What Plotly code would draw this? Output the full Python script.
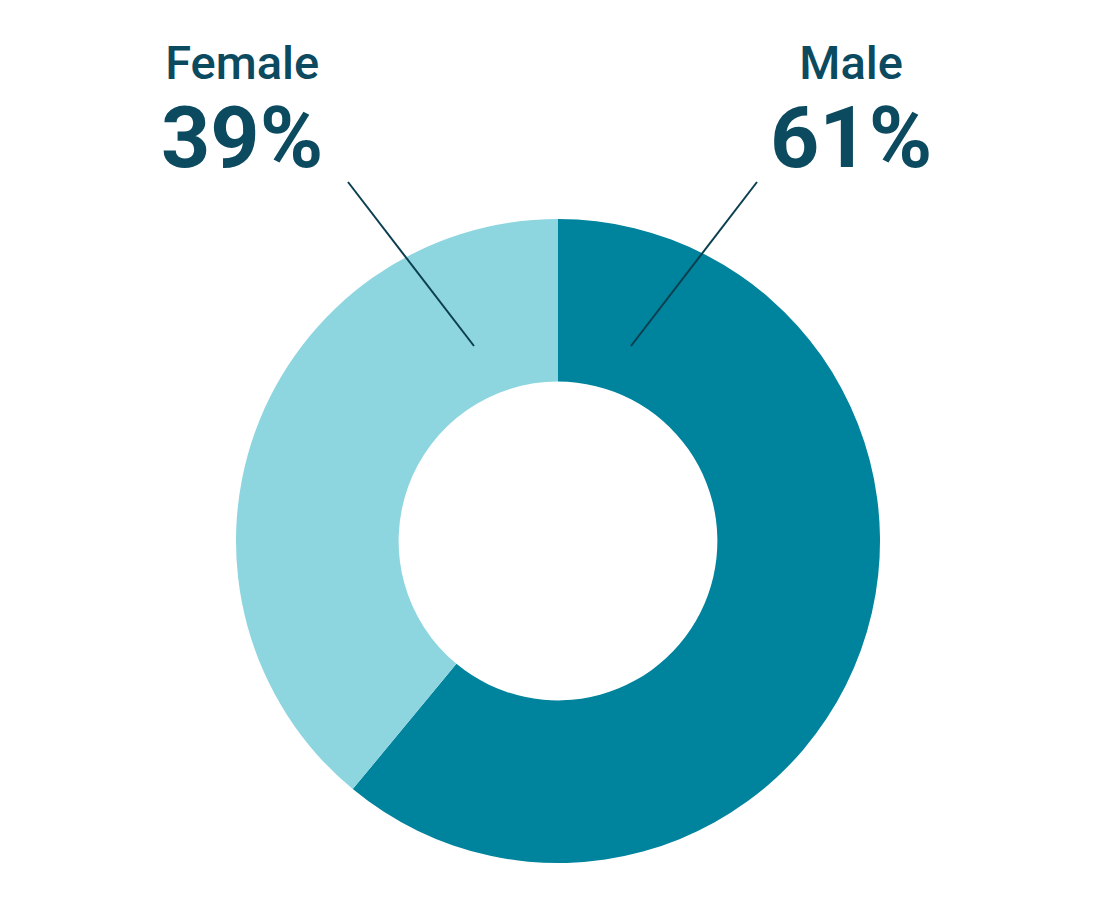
import plotly.graph_objects as go

# gender split
labels = ["Male", "Female"]
values = [61, 39]
colors = ["#00839C", "#8DD6E0"]

text_color = "#0C4A5F"
W, H = 1120, 924
off = 8  # page body margin shifts everything by this much
cx, cy, r = 558 - off, 541 - off, 322  # pie centre / radius in pixels

fig = go.Figure()
fig.add_trace(go.Pie(
    labels=labels,
    values=values,
    marker=dict(colors=colors, line=dict(width=0)),
    hole=0.495,
    sort=False,
    direction="clockwise",
    rotation=0,
    textinfo="none",
    hoverinfo="none",
    showlegend=False,
    domain=dict(x=[(cx - r) / W, (cx + r) / W],
                y=[(H - cy - r) / H, (H - cy + r) / H]),
))

# label positions (pixels): block centre, leader line ends
label_pos = {
    "Female": dict(x=242, y=112, line=(348, 182, 474, 346)),
    "Male": dict(x=851, y=112, line=(757, 182, 631, 346)),
}

for lab, val in zip(labels, values):
    p = label_pos[lab]
    txt = (f"<span style='font-size:47px;font-weight:500'>{lab}</span><br>"
           f"<span style='font-size:86px'>{val}%</span>")
    fig.add_annotation(x=(p["x"] - off) / W, y=1 - (p["y"] - off) / H,
                       xref="paper", yref="paper",
                       text=txt, showarrow=False, xanchor="center", yanchor="middle",
                       align="center",
                       font=dict(family="Roboto", size=68, color=text_color, weight=700))
    x0, y0, x1, y1 = p["line"]
    fig.add_shape(type="line", xref="paper", yref="paper",
                  x0=(x0 - off) / W, y0=1 - (y0 - off) / H,
                  x1=(x1 - off) / W, y1=1 - (y1 - off) / H,
                  line=dict(color="#0B3F50", width=2))

fig.update_layout(
    width=W, height=H,
    margin=dict(l=0, r=0, t=0, b=0),
    paper_bgcolor="white",
    plot_bgcolor="white",
)

fig.write_html("out.html")
